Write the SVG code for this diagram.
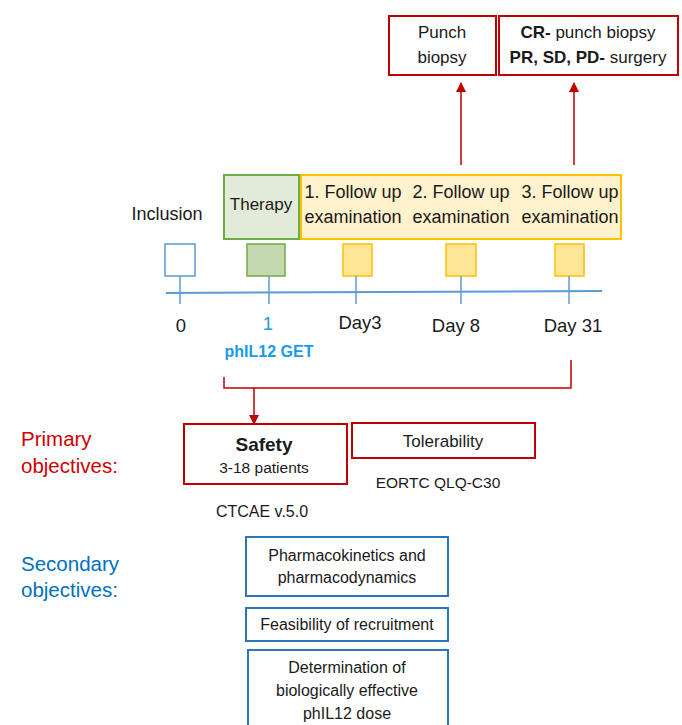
<svg xmlns="http://www.w3.org/2000/svg" width="682" height="725" viewBox="0 0 682 725">
<style>
text{font-family:"Liberation Sans",Arial,sans-serif;fill:#1a1a1a;text-anchor:middle}
.red{fill:none;stroke:#c00000;stroke-width:2}
.blue{fill:none;stroke:#2e75b6;stroke-width:2}
.top{font-size:17px}
.fu{font-size:18px}
.day{font-size:18.5px}
.obj{font-size:16px}
.lbl{font-size:20.5px;text-anchor:start}
.tick{stroke:#5b9bd5;stroke-width:1.5}
.sq{stroke-width:1.5}
</style>
<defs>
<marker id="ah" markerWidth="10" markerHeight="10" refX="9" refY="5" orient="auto" markerUnits="userSpaceOnUse">
<path d="M0,0 L10,5 L0,10 z" fill="#c00000"/>
</marker>
</defs>
<rect width="682" height="725" fill="#fff"/>

<g id="punch">
<rect class="red" x="389" y="16" width="107" height="59"/>
<text class="top" x="442" y="38" font-size="17.5">Punch</text>
<text class="top" x="442" y="63" font-size="17.5">biopsy</text>
</g>
<g id="outcome">
<rect class="red" x="499" y="16" width="179" height="59"/>
<text class="top" x="588" y="38"><tspan font-weight="bold">CR-</tspan> punch biopsy</text>
<text class="top" x="588" y="63"><tspan font-weight="bold">PR, SD, PD-</tspan> surgery</text>
</g>

<g id="inclusion">
<text class="fu" x="167" y="220" font-size="17.5">Inclusion</text>
<rect class="sq" x="165" y="244" width="30" height="32" fill="#fff" stroke="#5b9bd5"/>
</g>
<g id="therapy">
<rect x="224" y="175" width="75" height="64" fill="#e2ebd9" stroke="#70ad47" stroke-width="2"/>
<text x="261" y="210" font-size="17">Therapy</text>
<rect class="sq" x="247" y="244" width="38" height="32" fill="#c5d9b0" stroke="#70ad47"/>
</g>
<g id="followup">
<rect x="301" y="175" width="320" height="64" fill="#fff2cc" stroke="#ffc000" stroke-width="2"/>
<text class="fu" x="353" y="198">1. Follow up</text>
<text class="fu" x="353" y="223">examination</text>
<text class="fu" x="461" y="198">2. Follow up</text>
<text class="fu" x="461" y="223">examination</text>
<text class="fu" x="570" y="198">3. Follow up</text>
<text class="fu" x="570" y="223">examination</text>
<rect class="sq" x="343" y="244" width="29" height="32" fill="#ffe699" stroke="#ffc000"/>
<rect class="sq" x="446" y="244" width="30" height="32" fill="#ffe699" stroke="#ffc000"/>
<rect class="sq" x="555" y="244" width="29" height="32" fill="#ffe699" stroke="#ffc000"/>
</g>

<g id="timeline">
<line x1="166" y1="293" x2="602" y2="291" stroke="#5b9bd5" stroke-width="2"/>
<line class="tick" x1="180" y1="276" x2="180" y2="304"/>
<line class="tick" x1="269" y1="276" x2="269" y2="304"/>
<line class="tick" x1="356" y1="276" x2="356" y2="304"/>
<line class="tick" x1="461" y1="276" x2="461" y2="304"/>
<line class="tick" x1="569" y1="276" x2="569" y2="304"/>
<text class="day" x="181" y="332">0</text>
<text class="day" x="268" y="330" style="fill:#1a9be8">1</text>
<text class="day" x="360" y="329">Day3</text>
<text class="day" x="456" y="332">Day 8</text>
<text class="day" x="573" y="332">Day 31</text>
<text x="269" y="357" font-size="16" font-weight="bold" style="fill:#1a9be8">phIL12 GET</text>
</g>

<g id="connectors" fill="none" stroke="#c00000" stroke-width="1.5">
<line x1="461" y1="165" x2="461" y2="83" marker-end="url(#ah)"/>
<line x1="574" y1="165" x2="574" y2="83" marker-end="url(#ah)"/>
<polyline points="224,377 224,388 571,388 571,360"/>
<line x1="254" y1="388" x2="254" y2="424" marker-end="url(#ah)"/>
</g>

<g id="primary-label">
<text class="lbl" x="21" y="446" style="fill:#d00000">Primary</text>
<text class="lbl" x="21" y="473" style="fill:#d00000">objectives:</text>
</g>
<g id="safety">
<rect class="red" x="184" y="424" width="163" height="60"/>
<text x="264" y="451" font-size="19" font-weight="bold">Safety</text>
<text x="264" y="473" font-size="15.5">3-18 patients</text>
<text x="262" y="517" font-size="16">CTCAE v.5.0</text>
</g>
<g id="tolerability">
<rect class="red" x="352" y="423" width="183" height="35"/>
<text x="443" y="447" font-size="17">Tolerability</text>
<text x="438" y="488" font-size="15.5">EORTC QLQ-C30</text>
</g>

<g id="secondary-label">
<text class="lbl" x="21" y="571" style="fill:#0070c0">Secondary</text>
<text class="lbl" x="21" y="597" style="fill:#0070c0">objectives:</text>
</g>
<g id="pkpd">
<rect class="blue" x="246" y="537" width="202" height="59"/>
<text class="obj" x="347" y="561">Pharmacokinetics and</text>
<text class="obj" x="347" y="583">pharmacodynamics</text>
</g>
<g id="feasibility">
<rect class="blue" x="246" y="608" width="202" height="33"/>
<text class="obj" x="347" y="630">Feasibility of recruitment</text>
</g>
<g id="dose">
<rect class="blue" x="248" y="650" width="200" height="80"/>
<text class="obj" x="347" y="673">Determination of</text>
<text class="obj" x="347" y="696">biologically effective</text>
<text class="obj" x="347" y="719">phIL12 dose</text>
</g>
</svg>
